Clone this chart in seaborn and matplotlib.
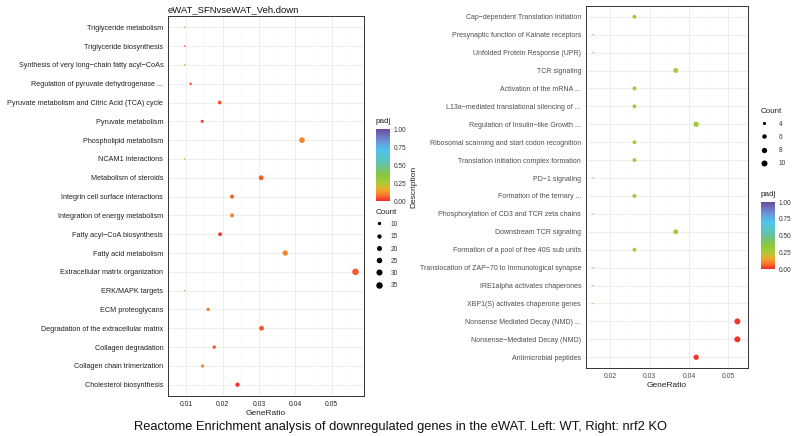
import numpy as np
import pandas as pd
import matplotlib
matplotlib.use("Agg")
import matplotlib.pyplot as plt
import seaborn as sns
from matplotlib.colors import LinearSegmentedColormap, Normalize
from matplotlib.lines import Line2D
import matplotlib.cm as cm

# ---------------- data ----------------
left_terms = [
    "Triglyceride metabolism",
    "Triglyceride biosynthesis",
    "Synthesis of very long\u2212chain fatty acyl\u2212CoAs",
    "Regulation of pyruvate dehydrogenase ...",
    "Pyruvate metabolism and Citric Acid (TCA) cycle",
    "Pyruvate metabolism",
    "Phospholipid metabolism",
    "NCAM1 interactions",
    "Metabolism of steroids",
    "Integrin cell surface interactions",
    "Integration of energy metabolism",
    "Fatty acyl\u2212CoA biosynthesis",
    "Fatty acid metabolism",
    "Extracellular matrix organization",
    "ERK/MAPK targets",
    "ECM proteoglycans",
    "Degradation of the extracellular matrix",
    "Collagen degradation",
    "Collagen chain trimerization",
    "Cholesterol biosynthesis",
]
left_ratio = [0.0096, 0.0096, 0.0096, 0.0112, 0.0192, 0.0144, 0.0418, 0.0096,
              0.0306, 0.0226, 0.0226, 0.0193, 0.0372, 0.0565, 0.0096, 0.0160,
              0.0307, 0.0177, 0.0145, 0.0241]
left_count = [6, 6, 6, 7, 12, 9, 26, 6, 19, 14, 14, 12, 23, 35, 6, 10, 19, 11, 9, 15]
left_padj = [0.12, 0.02, 0.12, 0.03, 0.04, 0.02, 0.10, 0.12, 0.05, 0.06,
             0.11, 0.01, 0.10, 0.05, 0.13, 0.09, 0.05, 0.06, 0.09, 0.01]

right_terms = [
    "Cap\u2212dependent Translation Initiation",
    "Presynaptic function of Kainate receptors",
    "Unfolded Protein Response (UPR)",
    "TCR signaling",
    "Activation of the mRNA ...",
    "L13a\u2212mediated translational silencing of ...",
    "Regulation of Insulin\u2212like Growth ...",
    "Ribosomal scanning and start codon recognition",
    "Translation initiation complex formation",
    "PD\u22121 signaling",
    "Formation of the ternary ...",
    "Phosphorylation of CD3 and TCR zeta chains",
    "Downstream TCR signaling",
    "Formation of a pool of free 40S sub units",
    "Translocation of ZAP\u221270 to Immunological synapse",
    "IRE1alpha activates chaperones",
    "XBP1(S) activates chaperone genes",
    "Nonsense Mediated Decay (NMD) ...",
    "Nonsense\u2212Mediated Decay (NMD)",
    "Antimicrobial peptides",
]
right_ratio = [0.0261, 0.0156, 0.0156, 0.0366, 0.0261, 0.0261, 0.0418, 0.0261,
               0.0261, 0.0156, 0.0261, 0.0156, 0.0366, 0.0261, 0.0156, 0.0156,
               0.0156, 0.0523, 0.0523, 0.0418]
right_count = [5, 3, 3, 7, 5, 5, 8, 5, 5, 3, 5, 3, 7, 5, 3, 3, 3, 10, 10, 8]
right_padj = [0.28, 0.22, 0.22, 0.28, 0.28, 0.28, 0.28, 0.28, 0.28, 0.22,
              0.28, 0.22, 0.28, 0.28, 0.22, 0.22, 0.22, 0.01, 0.01, 0.01]

left_title = "eWAT_SFNvseWAT_Veh.down"
left_count_breaks = [10, 15, 20, 25, 30, 35]
right_count_breaks = [4, 6, 8, 10]
padj_breaks = [0.0, 0.25, 0.5, 0.75, 1.0]
left_xticks = [0.01, 0.02, 0.03, 0.04, 0.05]
right_xticks = [0.02, 0.03, 0.04, 0.05]
caption = "Reactome Enrichment analysis of downregulated genes in the eWAT. Left: WT, Right: nrf2 KO"

# ---------------- style ----------------
sns.set_theme(style="white")
plt.rcParams['font.family'] = ['Liberation Sans', 'DejaVu Sans']

cmap = LinearSegmentedColormap.from_list("padj", [
    (0.00, '#F42A2A'), (0.08, '#F5782A'), (0.15, '#F2A52A'),
    (0.25, '#A9CC36'), (0.36, '#8CC640'), (0.52, '#62C2A8'),
    (0.70, '#4DC5EE'), (0.85, '#6D8DD5'), (1.00, '#6A4C9C')])

W, H = 800, 436
fig = plt.figure(figsize=(W / 100, H / 100), dpi=100)


def rect(x0, y0, x1, y1):
    return [x0 / W, 1 - y1 / H, (x1 - x0) / W, (y1 - y0) / H]


def dot_px(c, lo, hi, dmin, dmax):
    return dmin + np.sqrt((c - lo) / (hi - lo)) * (dmax - dmin)


def panel(r, terms, ratio, count, padj, xticks, dmin, dmax, labcol, labsize):
    ax = fig.add_axes(rect(*r))
    df = pd.DataFrame({"Description": terms, "GeneRatio": ratio,
                       "Count": count, "padj": padj})
    lo, hi = min(count), max(count)
    sizes = {c: (dot_px(c, lo, hi, dmin, dmax) * 0.72) ** 2 for c in set(count)}
    sns.scatterplot(data=df, x="GeneRatio", y="Description", hue="padj",
                    hue_norm=(0, 1), palette=cmap, size="Count", sizes=sizes,
                    linewidth=0, legend=False, ax=ax, zorder=3)
    n = len(terms)
    ax.set_ylim(n - 0.4, -0.6)
    xmin, xmax = min(ratio), max(ratio)
    pad = 0.05 * (xmax - xmin)
    ax.set_xlim(xmin - pad, xmax + pad)
    ax.set_xticks(xticks)
    ax.set_xticklabels([f"{t:.2f}" for t in xticks])
    minor = [t - 0.005 for t in xticks] + [xticks[-1] + 0.005]
    ax.set_xticks(minor, minor=True)
    ax.grid(True, which='major', color='#EBEBEB', lw=0.6)
    ax.grid(True, which='minor', axis='x', color='#F3F3F3', lw=0.35)
    ax.set_axisbelow(True)
    for s in ax.spines.values():
        s.set_color('#333333')
        s.set_linewidth(0.7)
    ax.tick_params(axis='y', which='major', length=2, width=0.5,
                   color='#333333', labelsize=labsize, labelcolor=labcol, pad=1.5)
    ax.tick_params(axis='x', which='major', length=2, width=0.5,
                   color='#333333', labelsize=4.9, labelcolor=labcol, pad=1.5)
    ax.tick_params(axis='x', which='minor', length=0)
    ax.set_xlabel("GeneRatio", fontsize=6.0, color='#222222', labelpad=1.5)
    ax.set_ylabel("")
    return ax


def size_legend(x, y, breaks, lo, hi, dmin, dmax, spacing, textpad):
    handles = [Line2D([], [], marker='o', linestyle='', color='black',
                      markeredgewidth=0,
                      markersize=dot_px(b, lo, hi, dmin, dmax) * 0.72)
               for b in breaks]
    leg = fig.legend(handles, [str(b) for b in breaks], title="Count",
                     loc='upper left', bbox_to_anchor=(x / W, 1 - y / H),
                     frameon=False, fontsize=4.7, title_fontsize=5.8,
                     borderpad=0, handlelength=1.0, handleheight=1.2,
                     handletextpad=textpad, labelspacing=spacing,
                     borderaxespad=0)
    leg._legend_box.align = "left"
    for t in leg.get_texts():
        t.set_color('#333333')
    leg.get_title().set_color('#222222')
    return leg


def padj_bar(x0, y0, x1, y1):
    cax = fig.add_axes(rect(x0, y0, x1, y1))
    cb = fig.colorbar(cm.ScalarMappable(norm=Normalize(0, 1), cmap=cmap), cax=cax)
    cb.outline.set_visible(False)
    cb.set_ticks(padj_breaks)
    cb.ax.set_yticklabels([f"{b:.2f}" for b in padj_breaks])
    cb.ax.tick_params(which='major', direction='in', color='white', length=2.4,
                      width=0.5, left=True, right=True, labelsize=4.7,
                      labelcolor='#333333', pad=2.5)
    cb.ax.tick_params(which='minor', length=0)
    cax.text(0.0, 1.0 + 4 / (y1 - y0), "padj", transform=cax.transAxes,
             ha='left', va='bottom', fontsize=5.8, color='#222222')
    return cb


# ---------------- left panel ----------------
axL = panel((168, 16, 364, 396), left_terms, left_ratio, left_count, left_padj,
            left_xticks, 1.5, 6.5, '#222222', 5.2)
axL.set_title(left_title, loc='left', fontsize=6.8, pad=3, color='#111111')
padj_bar(376, 129, 390, 201)
size_legend(376, 209, left_count_breaks, min(left_count), max(left_count),
            1.5, 6.5, 0.72, 1.2)

# ---------------- right panel ----------------
axR = panel((586, 6, 748, 368), right_terms, right_ratio, right_count, right_padj,
            right_xticks, 1.5, 6.0, '#4D4D4D', 5.05)
axR.set_ylabel("Description", fontsize=6.0, color='#222222')
axR.yaxis.set_label_coords((417 - 586) / (748 - 586), 0.5)
size_legend(761, 108, right_count_breaks, min(right_count), max(right_count),
            1.5, 6.0, 0.85, 1.7)
padj_bar(761, 202, 775, 269)

fig.text(0.5, 1 - 427 / H, caption, ha='center', va='center', fontsize=9.3,
         color='#111111')

fig.savefig("out.png", dpi=100)
